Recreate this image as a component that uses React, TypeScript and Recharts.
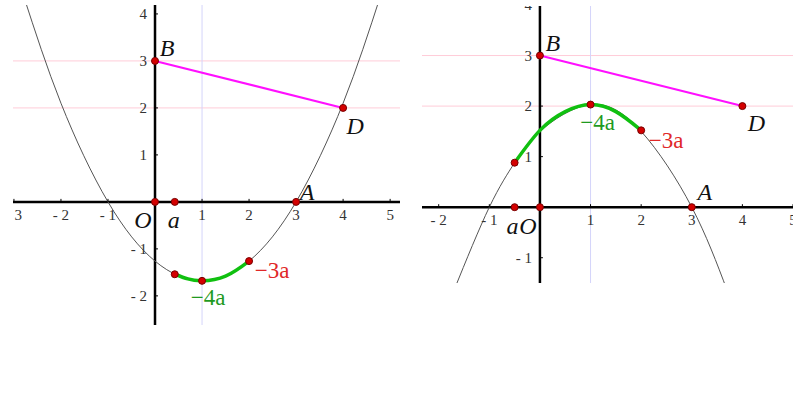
import React from 'react';
import { LineChart, Line, XAxis, YAxis, ReferenceLine, ReferenceDot } from 'recharts';

// left panel: parabola opening up (a > 0)
const leftCurve = [
  { x: -2.8, y: 4.4 }, { x: -2, y: 2.1 }, { x: -1, y: 0 }, { x: 0, y: -1.26 },
  { x: 1, y: -1.68 }, { x: 2, y: -1.26 }, { x: 3, y: 0 }, { x: 4, y: 2.1 }, { x: 4.8, y: 4.4 },
];
const leftArc = [
  { x: 0.42, y: -1.54 }, { x: 0.7, y: -1.64 }, { x: 1, y: -1.68 }, { x: 1.5, y: -1.58 }, { x: 2, y: -1.26 },
];
const leftPoints = [
  { x: 0, y: 3 }, { x: 4, y: 2 }, { x: 0, y: 0 }, { x: 0.42, y: 0 }, { x: 3, y: 0 },
  { x: 0.42, y: -1.54 }, { x: 1, y: -1.68 }, { x: 2, y: -1.26 },
];
const leftLabels = [
  { x: 0, y: 3, text: 'B' }, { x: 4, y: 2, text: 'D' }, { x: 3, y: 0, text: 'A' },
  { x: 0, y: 0, text: 'O' }, { x: 0.42, y: 0, text: 'a' },
  { x: 2, y: -1.26, text: '−3a' }, { x: 1, y: -1.68, text: '−4a' },
];
const leftXTicks = [-3, -2, -1, 1, 2, 3, 4, 5];
const leftYTicks = [-2, -1, 1, 2, 3, 4];

// right panel: parabola opening down (a < 0)
const rightCurve = [
  { x: -1.7, y: -1.65 }, { x: -1, y: 0 }, { x: -0.5, y: 0.88 }, { x: 0, y: 1.5 },
  { x: 1, y: 2.03 }, { x: 2, y: 1.5 }, { x: 3, y: 0 }, { x: 3.7, y: -1.65 },
];
const rightArc = [
  { x: -0.5, y: 0.88 }, { x: 0, y: 1.52 }, { x: 0.5, y: 1.89 }, { x: 1, y: 2.03 },
  { x: 1.5, y: 1.89 }, { x: 2, y: 1.52 },
];
const rightPoints = [
  { x: 0, y: 3 }, { x: 4, y: 2 }, { x: 0, y: 0 }, { x: -0.5, y: 0 }, { x: 3, y: 0 },
  { x: -0.5, y: 0.88 }, { x: 1, y: 2.03 }, { x: 2, y: 1.52 },
];
const rightLabels = [
  { x: 0, y: 3, text: 'B' }, { x: 4, y: 2, text: 'D' }, { x: 3, y: 0, text: 'A' },
  { x: 0, y: 0, text: 'O' }, { x: -0.5, y: 0, text: 'a' },
  { x: 2, y: 1.52, text: '−3a' }, { x: 1, y: 2.03, text: '−4a' },
];
const rightXTicks = [-2, -1, 1, 2, 3, 4, 5];
const rightYTicks = [-1, 1, 2, 3, 4];

const segmentBD = [{ x: 0, y: 3 }, { x: 4, y: 2 }];

// label offsets in pixels, per panel
const leftOffsets: Record<string, [number, number]> = {
  B: [12, -13], D: [12, 18], A: [11, -10], O: [-12, 18], a: [-1, 18], '−3a': [23, 9], '−4a': [6, 17],
};
const rightOffsets: Record<string, [number, number]> = {
  B: [13, -13], D: [14, 17], A: [13, -15], O: [-12, 19], a: [-2, 19], '−3a': [25, 10], '−4a': [7, 18],
};

const tickFont = { fontFamily: '"Liberation Serif", serif', fontSize: 15, fill: '#333' };
const fmt = (v: number) => (v < 0 ? `- ${Math.abs(v)}` : `${v}`);

function labelStyle(text: string) {
  if (text === '−3a') return { fill: '#e02828', fontStyle: 'normal', fontSize: 23 };
  if (text === '−4a') return { fill: '#1f9a1f', fontStyle: 'normal', fontSize: 23 };
  return { fill: '#111', fontStyle: 'italic', fontSize: 24 };
}

type Pt = { x: number; y: number };
type PanelProps = {
  left: number; top: number; width: number; height: number;
  xDomain: [number, number]; yDomain: [number, number];
  xTicks: number[]; yTicks: number[];
  curve: Pt[]; arc: Pt[]; points: Pt[];
  labels: { x: number; y: number; text: string }[];
  offsets: Record<string, [number, number]>;
};

function Panel(p: PanelProps) {
  return (
    <div style={{ position: 'absolute', left: p.left, top: p.top }}>
      <LineChart width={p.width} height={p.height} margin={{ top: 0, right: 0, bottom: 0, left: 0 }}>
        <XAxis type="number" dataKey="x" domain={p.xDomain} allowDataOverflow hide />
        <YAxis type="number" dataKey="y" domain={p.yDomain} allowDataOverflow hide />
        <ReferenceLine y={3} stroke="#ffccd8" strokeWidth={1} />
        <ReferenceLine y={2} stroke="#ffccd8" strokeWidth={1} />
        <ReferenceLine x={1} stroke="#d4d4fa" strokeWidth={1} />
        <ReferenceLine y={0} stroke="#000" strokeWidth={2.5} />
        <ReferenceLine x={0} stroke="#000" strokeWidth={2.5} />
        {p.xTicks.map((t) => (
          <ReferenceDot key={`xt${t}`} x={t} y={0} ifOverflow="visible" shape={(s: any) => (
            <g>
              <line x1={s.cx} x2={s.cx} y1={s.cy} y2={s.cy - 3} stroke="#000" strokeWidth={1} />
              <text x={s.cx} y={s.cy + 13} textAnchor="middle" dominantBaseline="central" {...tickFont}>{fmt(t)}</text>
            </g>
          )} />
        ))}
        {p.yTicks.map((t) => (
          <ReferenceDot key={`yt${t}`} x={0} y={t} ifOverflow="visible" shape={(s: any) => (
            <g>
              <line x1={s.cx} x2={s.cx + 3} y1={s.cy} y2={s.cy} stroke="#000" strokeWidth={1} />
              <text x={s.cx - 8} y={s.cy} textAnchor="end" dominantBaseline="central" {...tickFont}>{fmt(t)}</text>
            </g>
          )} />
        ))}
        <Line data={p.curve} dataKey="y" type="natural" stroke="#555" strokeWidth={1} dot={false} isAnimationActive={false} />
        <Line data={p.arc} dataKey="y" type="natural" stroke="#10c010" strokeWidth={3.5} dot={false} isAnimationActive={false} />
        <Line data={segmentBD} dataKey="y" type="linear" stroke="#ff10ff" strokeWidth={2} dot={false} isAnimationActive={false} />
        {p.points.map((d, i) => (
          <ReferenceDot key={`pt${i}`} x={d.x} y={d.y} r={3.5} fill="#d40000" stroke="#700" strokeWidth={1} ifOverflow="visible" />
        ))}
        {p.labels.map((d, i) => {
          const [dx, dy] = p.offsets[d.text];
          const st = labelStyle(d.text);
          return (
            <ReferenceDot key={`lb${i}`} x={d.x} y={d.y} ifOverflow="visible" shape={(s: any) => (
              <text x={s.cx + dx} y={s.cy + dy} textAnchor="middle" dominantBaseline="central"
                fontFamily='"Liberation Serif", serif' fontSize={st.fontSize} fontStyle={st.fontStyle} fill={st.fill}>
                {d.text}
              </text>
            )} />
          );
        })}
      </LineChart>
    </div>
  );
}

export default function App() {
  return (
    <div style={{ position: 'absolute', left: 0, top: 0, width: 793, height: 401, background: '#fff' }}>
      <Panel left={13} top={5} width={387} height={320}
        xDomain={[-3.02, 5.21]} yDomain={[-2.62, 4.19]}
        xTicks={leftXTicks} yTicks={leftYTicks}
        curve={leftCurve} arc={leftArc} points={leftPoints}
        labels={leftLabels} offsets={leftOffsets} />
      <Panel left={422} top={6} width={371} height={277}
        xDomain={[-2.33, 5.0]} yDomain={[-1.5, 3.98]}
        xTicks={rightXTicks} yTicks={rightYTicks}
        curve={rightCurve} arc={rightArc} points={rightPoints}
        labels={rightLabels} offsets={rightOffsets} />
    </div>
  );
}
